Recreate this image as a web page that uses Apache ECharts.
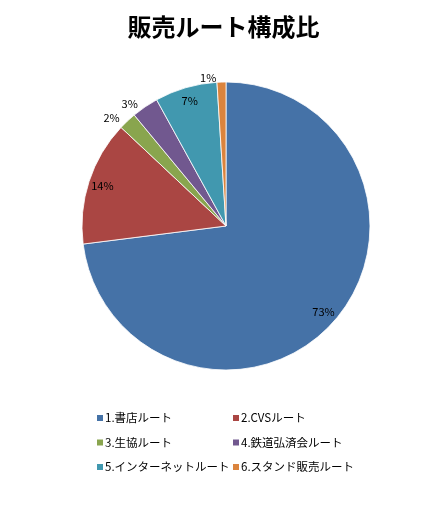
<!DOCTYPE html>
<html><head><meta charset="utf-8">
<script src="https://cdn.jsdelivr.net/npm/echarts@6/dist/echarts.min.js"></script>
<style>html,body{margin:0;padding:0;background:#fff}#c{width:447px;height:511px}</style>
</head><body><div id="c"></div>
<script>
const categories = ['1.書店ルート','2.CVSルート','3.生協ルート','4.鉄道弘済会ルート','5.インターネットルート','6.スタンド販売ルート'];
const shares = [73, 14, 2, 3, 7, 1];
const colors = ['#4572A7','#AA4643','#89A54E','#71588F','#4198AF','#DB843D'];
const outsideLabel = [false, false, true, true, false, true];

const font = '"Noto Sans CJK JP", "Noto Sans", sans-serif';
const chart = echarts.init(document.getElementById('c'));
const baseData = categories.map((n,i)=>({name:n, value:shares[i], itemStyle:{color:colors[i]}}));
const labelData = categories.map((n,i)=>({
  name:n, value:shares[i],
  label: outsideLabel[i] ? {position:'outside'} : {position:'inside'},
  labelLine: {show:false, length:4, length2:0}
}));
const legendBase = {orient:'vertical', top:406, icon:'rect', itemWidth:8, itemHeight:8, itemGap:10.5,
  textStyle:{fontFamily:font, fontSize:11.5, color:'#000', lineHeight:14, padding:[0,0,0,-4]}};
chart.setOption({
  animation:false,
  color: colors,
  title:{text:'販売ルート構成比', left:'center', top:10,
    textStyle:{fontFamily:font, fontSize:24, fontWeight:'bold', color:'#000'}},
  legend:[
    {...legendBase, data:[categories[0],categories[2],categories[4]], left:90},
    {...legendBase, data:[categories[1],categories[3],categories[5]], left:226}
  ],
  series:[
    {type:'pie', center:[226,226], radius:[0,144], startAngle:90, clockwise:true,
     silent:true, label:{show:false}, labelLine:{show:false},
     itemStyle:{borderColor:'#fff', borderWidth:0.8}, data: baseData},
    {type:'pie', center:[226,226], radius:[110,144], startAngle:90, clockwise:true,
     silent:true, legendHoverLink:false,
     itemStyle:{color:'rgba(0,0,0,0)'},
     percentPrecision:0,
     label:{show:true, formatter:'{d}%', fontFamily:font, fontSize:11, color:'#000'},
     labelLine:{show:false},
     data: labelData.map(d=>({...d, name:d.name+' '}))}
  ]
});
</script></body></html>
